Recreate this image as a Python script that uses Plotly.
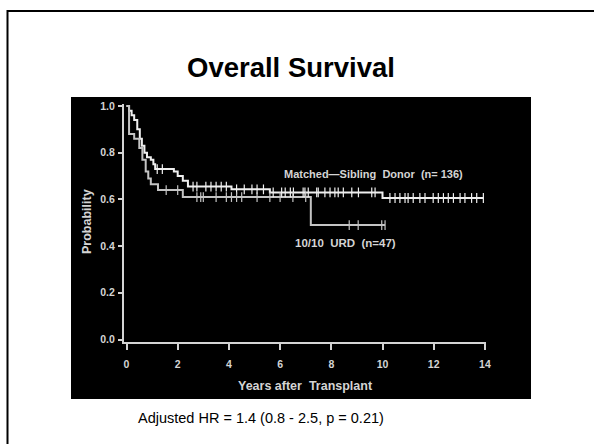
import plotly.graph_objects as go

# ---------------- data ----------------
msd_times = [0, 0.1, 0.2, 0.3, 0.42, 0.52, 0.6, 0.7, 0.8, 0.95, 1.05, 1.12, 1.85, 2.0, 2.2, 2.4, 4.1, 5.6, 10.0]
msd_surv = [1.0, 0.98, 0.96, 0.94, 0.90, 0.86, 0.83, 0.80, 0.78, 0.77, 0.75, 0.73, 0.72, 0.70, 0.68, 0.655, 0.643, 0.63, 0.606]
msd_end = 13.94
msd_censor = [1.2, 1.4, 2.6, 2.75, 3.1, 3.3, 3.5, 3.7, 3.9, 4.3, 4.6, 4.9, 5.1, 5.35,
              5.73, 6.06, 6.2, 6.4, 6.52, 6.9, 6.97, 7.1, 7.43, 7.49, 7.75, 7.95, 8.14, 8.27,
              8.47, 8.8, 9.06, 9.58, 9.71, 10.29, 10.49, 10.68, 10.88, 11.0, 11.2, 11.46,
              11.66, 11.98, 12.18, 12.38, 12.57, 12.77, 13.03, 13.22, 13.48, 13.68, 13.94]

urd_times = [0, 0.1, 0.3, 0.5, 0.62, 0.75, 0.85, 0.95, 1.23, 2.2, 7.2]
urd_surv = [1.0, 0.88, 0.86, 0.82, 0.77, 0.72, 0.69, 0.665, 0.64, 0.61, 0.49]
urd_end = 10.1
urd_censor = [1.55, 2.0, 2.75, 2.9, 3.0, 3.5, 3.9, 4.1, 4.3, 4.5, 5.1, 5.6, 6.0, 6.5, 7.0,
              8.7, 9.05, 9.97, 10.1]

x_ticks = [0, 2, 4, 6, 8, 10, 12, 14]
y_ticks = [0.0, 0.2, 0.4, 0.6, 0.8, 1.0]

title_text = "Overall Survival"
caption_text = "Adjusted HR = 1.4 (0.8 - 2.5, p = 0.21)"
msd_label = "Matched\u2014Sibling  Donor  (n= 136)"
urd_label = "10/10  URD  (n=47)"
x_title = "Years after  Transplant"
y_title = "Probability"


def step_value(times, surv, t):
    v = surv[0]
    for ti, si in zip(times, surv):
        if ti <= t:
            v = si
    return v


# ---------------- layout geometry (pixels) ----------------
W, H = 594, 444
L, R, T, B = 124, 486, 104, 342


def px_x(px):
    return (px - L) / (R - L)


def px_y(py):
    return (B - py) / (B - T)


FONT = "Liberation Sans, Arial, sans-serif"
MSD_COL = "#efefef"
URD_COL = "#c4c4c4"
AX_COL = "#d4d4d4"

fig = go.Figure()

fig.add_trace(go.Scatter(x=msd_times + [msd_end], y=msd_surv + [msd_surv[-1]],
                         mode="lines", line=dict(color=MSD_COL, width=2, shape="hv"),
                         showlegend=False, hoverinfo="skip"))
fig.add_trace(go.Scatter(x=urd_times + [urd_end], y=urd_surv + [urd_surv[-1]],
                         mode="lines", line=dict(color=URD_COL, width=2, shape="hv"),
                         showlegend=False, hoverinfo="skip"))
fig.add_trace(go.Scatter(x=msd_censor, y=[step_value(msd_times, msd_surv, t) for t in msd_censor],
                         mode="markers",
                         marker=dict(symbol="line-ns-open", size=7, color=MSD_COL,
                                     line=dict(color=MSD_COL, width=1.2)),
                         showlegend=False, hoverinfo="skip"))
fig.add_trace(go.Scatter(x=urd_censor, y=[step_value(urd_times, urd_surv, t) for t in urd_censor],
                         mode="markers",
                         marker=dict(symbol="line-ns-open", size=7, color=URD_COL,
                                     line=dict(color=URD_COL, width=1.2)),
                         showlegend=False, hoverinfo="skip"))

px_per_year = 25.6
px_per_unit = 233.5
x0 = -(126.5 - L) / px_per_year
x1 = x0 + (R - L) / px_per_year
y0 = -(B - 339.5) / px_per_unit
y1 = y0 + (B - T) / px_per_unit

fig.update_xaxes(range=[x0, x1], tickvals=x_ticks, ticks="outside", ticklen=6, tickwidth=1.5,
                 tickcolor=AX_COL, showline=True, linecolor=AX_COL, linewidth=2,
                 showgrid=False, zeroline=False, ticklabelstandoff=5,
                 tickfont=dict(family=FONT, size=10.5, color=AX_COL, weight="bold"))
fig.update_yaxes(range=[y0, y1], tickvals=y_ticks, tickformat=".1f", ticks="outside", ticklen=4,
                 tickwidth=1.5, tickcolor=AX_COL, showline=True, linecolor=AX_COL, linewidth=2,
                 showgrid=False, zeroline=False, ticklabelstandoff=1,
                 tickfont=dict(family=FONT, size=10.5, color=AX_COL, weight="bold"))

shapes = [
    dict(type="rect", xref="paper", yref="paper", layer="below",
         x0=px_x(71), x1=px_x(531), y0=px_y(399), y1=px_y(97),
         fillcolor="black", line=dict(width=0)),
    dict(type="rect", xref="paper", yref="paper", layer="below",
         x0=px_x(7.5), x1=px_x(620), y0=px_y(470), y1=px_y(11),
         fillcolor="rgba(0,0,0,0)", line=dict(color="black", width=2)),
]

annotations = [
    dict(text="<b>" + title_text + "</b>", xref="paper", yref="paper", x=px_x(291), y=px_y(67),
         xanchor="center", yanchor="middle", showarrow=False,
         font=dict(family=FONT, size=27.5, color="black")),
    dict(text=caption_text, xref="paper", yref="paper", x=px_x(136), y=px_y(418),
         xanchor="left", yanchor="middle", showarrow=False,
         font=dict(family=FONT, size=14.5, color="black")),
    dict(text=msd_label, xref="x", yref="y", x=9.63, y=0.709, xanchor="center", yanchor="middle",
         showarrow=False, font=dict(family=FONT, size=11, color=AX_COL, weight="bold")),
    dict(text=urd_label, xref="x", yref="y", x=8.54, y=0.415, xanchor="center", yanchor="middle",
         showarrow=False, font=dict(family=FONT, size=11.5, color=AX_COL, weight="bold")),
    dict(text=x_title, xref="paper", yref="paper", x=px_x(305), y=px_y(386),
         xanchor="center", yanchor="middle", showarrow=False,
         font=dict(family=FONT, size=12.5, color=AX_COL, weight="bold")),
    dict(text=y_title, xref="paper", yref="paper", x=px_x(87), y=px_y(222), textangle=-90,
         xanchor="center", yanchor="middle", showarrow=False,
         font=dict(family=FONT, size=12.5, color=AX_COL, weight="bold")),
]

fig.update_layout(width=W, height=H, margin=dict(l=L, r=W - R, t=T, b=H - B),
                  paper_bgcolor="white", plot_bgcolor="black",
                  shapes=shapes, annotations=annotations, showlegend=False)

fig.write_html("out.html", config={"displayModeBar": False})
